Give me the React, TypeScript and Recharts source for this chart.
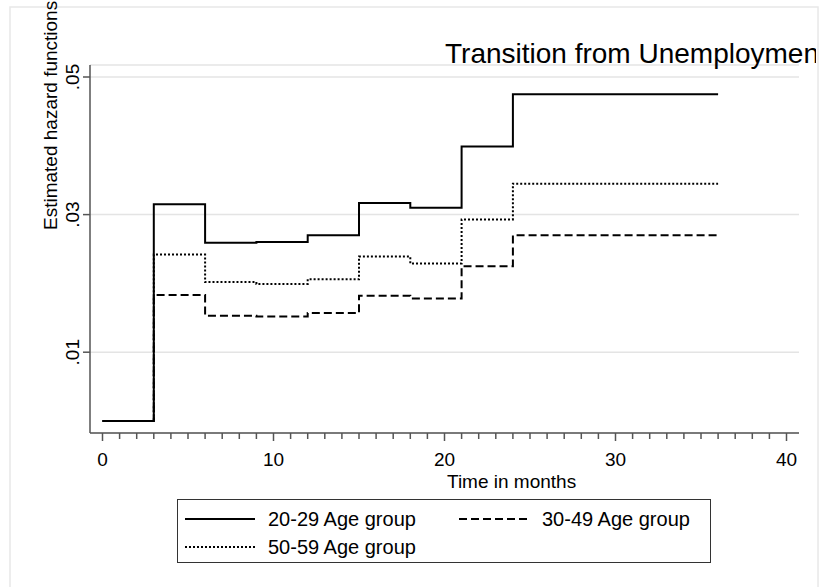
import { LineChart, Line, XAxis, YAxis, CartesianGrid, Legend } from 'recharts';

// Piecewise-constant hazard estimates, one value per 3-month interval
const MONTHS = [0, 3, 6, 9, 12, 15, 18, 21, 24, 36];
const AGE_20_29 = [0, 0.0315, 0.0259, 0.026, 0.027, 0.0317, 0.031, 0.0399, 0.0475, 0.0475];
const AGE_30_49 = [0, 0.0183, 0.0153, 0.0152, 0.0157, 0.0182, 0.0178, 0.0225, 0.027, 0.027];
const AGE_50_59 = [0, 0.0242, 0.0202, 0.0199, 0.0206, 0.0239, 0.0229, 0.0293, 0.0345, 0.0345];

const X_MAJOR = [0, 10, 20, 30, 40];
const X_TICKS = Array.from({ length: 41 }, (_, i) => i);
const Y_TICKS = [0.01, 0.03, 0.05];

const SERIES = [
  { key: 'a', name: '20-29 Age group', dash: undefined, width: 2 },
  { key: 'b', name: '30-49 Age group', dash: '8 4', width: 2 },
  { key: 'c', name: '50-59 Age group', dash: '2 2', width: 2 },
];

const data = MONTHS.map((m, i) => ({ month: m, a: AGE_20_29[i], b: AGE_30_49[i], c: AGE_50_59[i] }));

const FONT = '"Liberation Sans", Arial, Helvetica, sans-serif';
const AXIS = '#555';

const XTick = ({ x, y, payload }: any) => {
  const major = X_MAJOR.includes(payload.value);
  return (
    <g>
      <line x1={x} x2={x} y1={y} y2={y + (major ? 8 : 6)} stroke={AXIS} strokeWidth={1.5} />
      {major && (
        <text x={x} y={y + 33} textAnchor="middle" fontSize={19} fontFamily={FONT} fill="#000">
          {payload.value}
        </text>
      )}
    </g>
  );
};

const YTick = ({ x, y, payload }: any) => {
  const lx = x - 4;
  return (
    <text
      x={lx}
      y={y}
      transform={`rotate(-90, ${lx}, ${y})`}
      textAnchor="middle"
      fontSize={19}
      fontFamily={FONT}
      fill="#000"
    >
      {payload.value.toFixed(2).replace(/^0/, '')}
    </text>
  );
};

const LegendBox = () => {
  const slots = [
    { x: 8, y: 20 },
    { x: 282, y: 20 },
    { x: 8, y: 48 },
  ];
  return (
    <svg width={534} height={64} style={{ display: 'block' }}>
      <rect x={0.5} y={0.5} width={533} height={63} fill="#fff" stroke="#333" strokeWidth={1} />
      {SERIES.map((s, i) => (
        <g key={s.key}>
          <line
            x1={slots[i].x}
            x2={slots[i].x + 70}
            y1={slots[i].y}
            y2={slots[i].y}
            stroke="#000"
            strokeWidth={s.width}
            strokeDasharray={s.dash}
          />
          <text x={slots[i].x + 83} y={slots[i].y + 7} fontSize={20} fontFamily={FONT} fill="#000">
            {s.name}
          </text>
        </g>
      ))}
    </svg>
  );
};

export default function App() {
  return (
    <div style={{ position: 'absolute', left: 0, top: 0, width: 827, height: 587, background: '#fff' }}>
      <LineChart width={827} height={587} data={data} margin={{ top: 65, right: 28, bottom: 104, left: 0 }}>
        <CartesianGrid vertical={false} stroke="#e4e4e4" strokeWidth={1.5} />
        <XAxis
          dataKey="month"
          type="number"
          domain={[0, 40]}
          ticks={X_TICKS}
          interval={0}
          height={50}
          padding={{ left: 12.5, right: 12.5 }}
          axisLine={{ stroke: AXIS, strokeWidth: 1.5 }}
          tickLine={false}
          tickSize={0}
          tickMargin={0}
          tick={<XTick />}
        />
        <YAxis
          type="number"
          domain={[0, 0.05]}
          ticks={Y_TICKS}
          width={90}
          padding={{ top: 12, bottom: 12 }}
          axisLine={{ stroke: AXIS, strokeWidth: 1.5 }}
          tickLine={{ stroke: AXIS, strokeWidth: 1.5 }}
          tickSize={7}
          tickMargin={0}
          tick={<YTick />}
        />
        {SERIES.map((s) => (
          <Line
            key={s.key}
            dataKey={s.key}
            name={s.name}
            type="stepAfter"
            stroke="#000"
            strokeWidth={s.width}
            strokeDasharray={s.dash}
            dot={false}
            activeDot={false}
            isAnimationActive={false}
          />
        ))}
        <Legend
          layout="horizontal"
          verticalAlign="middle"
          align="center"
          wrapperStyle={{ left: 177, top: 499, width: 534, height: 64 }}
          content={() => <LegendBox />}
        />
      </LineChart>
      <svg
        width={827}
        height={587}
        style={{ position: 'absolute', left: 0, top: 0, pointerEvents: 'none' }}
      >
        <defs>
          <clipPath id="graph-region">
            <rect x={0} y={0} width={816} height={587} />
          </clipPath>
        </defs>
        <rect x={10} y={7} width={808} height={620} fill="none" stroke="#e8e8e8" strokeWidth={1.5} />
        <text x={445} y={63} fontSize={28} fontFamily={FONT} fill="#000" clipPath="url(#graph-region)">
          Transition from Unemployment
        </text>
        <text
          x={57}
          y={230}
          transform="rotate(-90, 57, 230)"
          fontSize={19}
          fontFamily={FONT}
          fill="#000"
        >
          Estimated hazard functions
        </text>
        <text x={447} y={488} fontSize={19} fontFamily={FONT} fill="#000">
          Time in months
        </text>
      </svg>
    </div>
  );
}
